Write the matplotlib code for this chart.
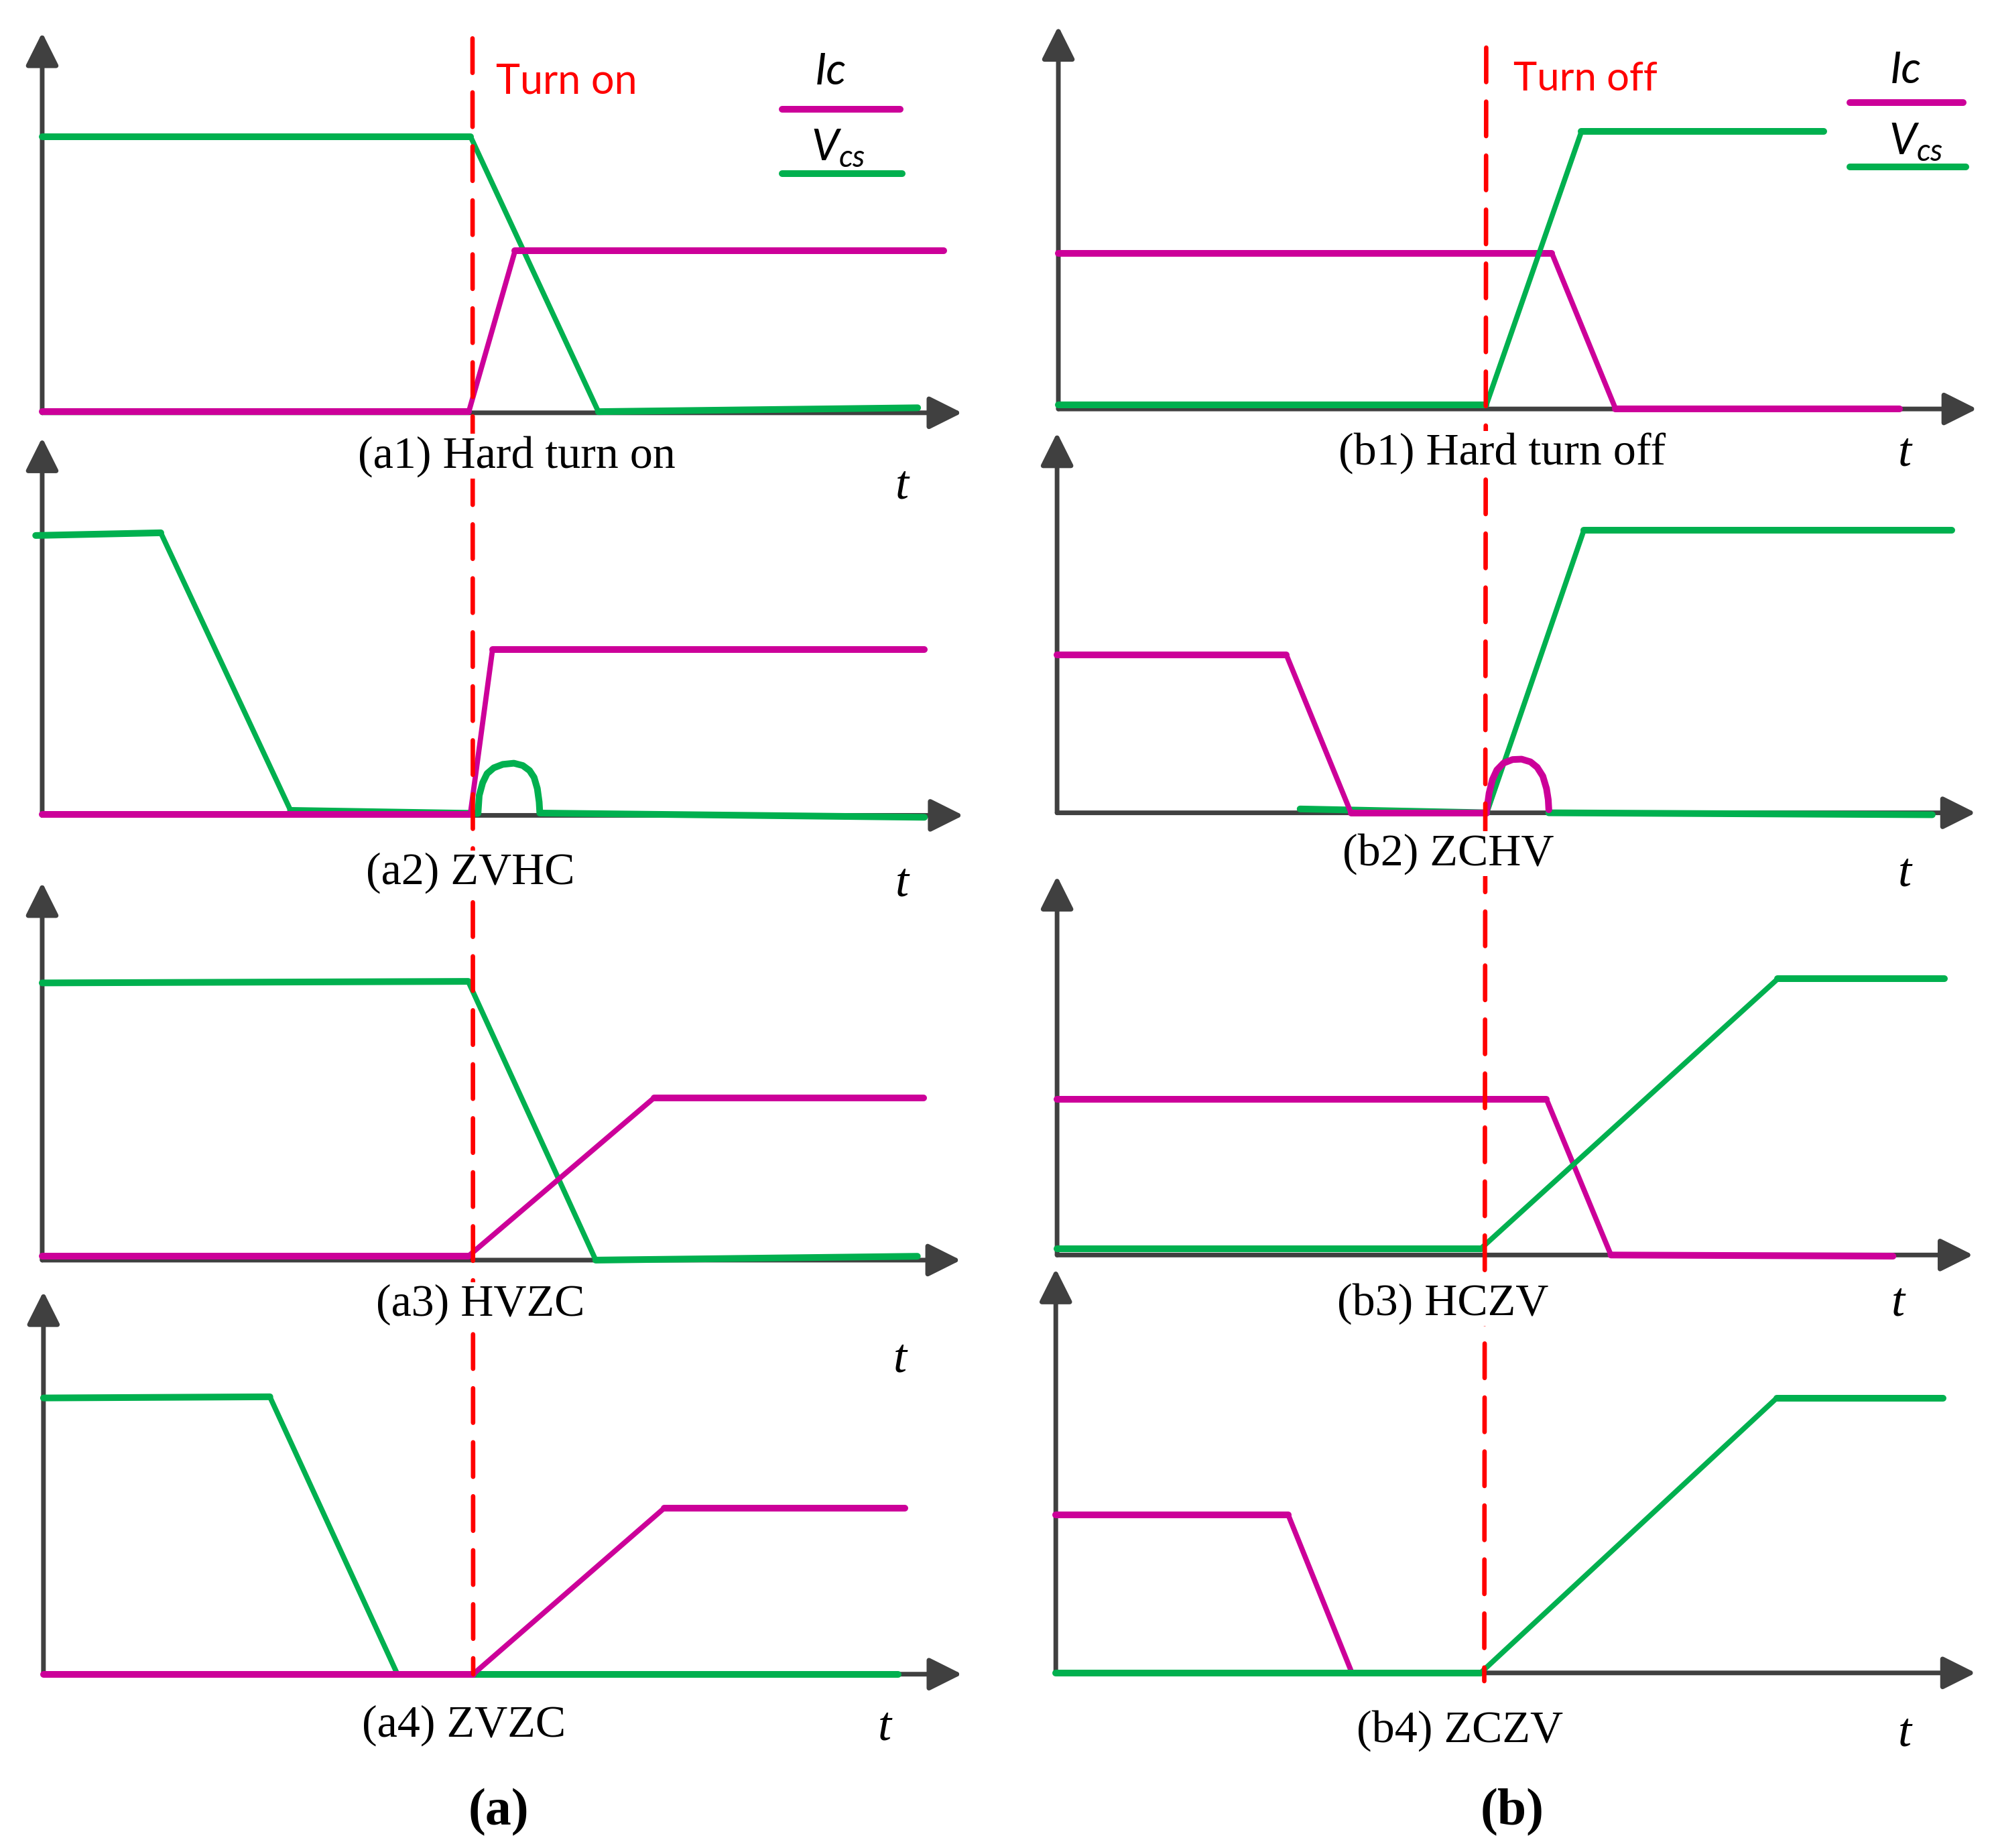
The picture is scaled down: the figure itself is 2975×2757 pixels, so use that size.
import matplotlib
matplotlib.use('Agg')
import matplotlib.pyplot as plt
from matplotlib.lines import Line2D

plt.rcParams['lines.scale_dashes'] = False
plt.rcParams['mathtext.fontset'] = 'custom'
plt.rcParams['mathtext.it'] = 'Lato:italic'
plt.rcParams['mathtext.rm'] = 'Lato'

GREEN = '#00B04F'
MAGENTA = '#CC0099'
RED = '#FF0000'
AXIS = '#404040'

# ---------------- data: waveform breakpoints (time 0..10, amplitude 0..1) ----------------
a1_vcs_t = [0, 4.63, 6.01, 9.46]
a1_vcs_v = [0.715, 0.715, 0.003, 0.013]
a1_ic_t = [0, 4.61, 5.11, 9.74]
a1_ic_v = [0.003, 0.003, 0.42, 0.42]

a2_vcs_t = [-0.07, 1.28, 2.68, 4.70]
a2_vcs_v = [0.73, 0.737, 0.013, 0.005]
a2_bump_t = [4.703, 4.716, 4.753, 4.801, 4.873, 4.970, 5.090, 5.186, 5.259,
             5.308, 5.343, 5.363, 5.370, 9.52]
a2_bump_v = [0.006, 0.052, 0.085, 0.109, 0.124, 0.133, 0.136, 0.130, 0.117,
             0.099, 0.070, 0.035, 0.006, -0.005]
a2_ic_t = [0, 4.62, 4.86, 9.52]
a2_ic_v = [0.003, 0.003, 0.433, 0.433]

a3_vcs_t = [0, 4.61, 5.99, 9.47]
a3_vcs_v = [0.723, 0.727, 0.0, 0.01]
a3_ic_t = [0, 4.61, 6.62, 9.54]
a3_ic_v = [0.01, 0.01, 0.423, 0.423]

a4_vcs_t = [0, 2.45, 3.83, 9.25]
a4_vcs_v = [0.711, 0.714, 0.0, 0.0]
a4_ic_t = [0, 4.65, 6.72, 9.32]
a4_ic_v = [0.0, 0.0, 0.428, 0.428]

b1_ic_t = [0, 5.34, 6.03, 9.10]
b1_ic_v = [0.401, 0.401, 0.0, 0.0]
b1_vcs_t = [0, 4.63, 5.66, 8.28]
b1_vcs_v = [0.01, 0.01, 0.714, 0.714]

b2_ic_t = [0, 2.48, 3.18, 4.65]
b2_ic_v = [0.41, 0.41, 0.0, 0.0]
b2_bump_t = [4.650, 4.675, 4.711, 4.759, 4.832, 4.929, 5.026, 5.123, 5.195,
             5.256, 5.296, 5.315, 5.321]
b2_bump_v = [0.008, 0.051, 0.086, 0.111, 0.129, 0.138, 0.139, 0.132, 0.118,
             0.095, 0.063, 0.034, 0.008]
b2_vcs_t = [2.63, 4.65, 5.70, 9.68]
b2_vcs_v = [0.01, 0.0, 0.732, 0.732]
b2_tail_t = [5.32, 9.47]
b2_tail_v = [0.0, -0.005]

b3_ic_t = [0, 5.31, 6.01, 9.07]
b3_ic_v = [0.405, 0.405, 0.0, -0.003]
b3_vcs_t = [0, 4.60, 7.82, 9.63]
b3_vcs_v = [0.017, 0.017, 0.718, 0.718]

b4_ic_t = [0, 2.51, 3.20]
b4_ic_v = [0.386, 0.386, 0.0]
b4_vcs_t = [0, 4.59, 7.79, 9.59]
b4_vcs_v = [0.0, 0.0, 0.67, 0.67]

t_switch_a = 4.65
t_switch_b = 4.63

titles = ['(a1) Hard turn on', '(a2) ZVHC', '(a3) HVZC', '(a4) ZVZC',
          '(b1) Hard turn off', '(b2) ZCHV', '(b3) HCZV', '(b4) ZCZV']
legend_labels = ['Ic', r'$V_{cs}$']
marker_labels = ['Turn on', 'Turn off']
group_labels = ['(a)', '(b)']

# ---------------- layout (reference pixel grid 1560 x 1446) ----------------
W_REF, H_REF = 1560.0, 1446.0
def fx(x):
    return x / W_REF
def fy(y):
    return 1 - y / H_REF

boxes = {  # xL, xR, yTop, yBottom
    'a1': (33, 757, 21, 323), 'a2': (33, 758, 338, 638),
    'a3': (33, 756, 686, 986), 'a4': (34, 757, 1006, 1310),
    'b1': (828, 1551, 16, 320), 'b2': (827, 1550, 334, 636),
    'b3': (827, 1548, 681, 982), 'b4': (826, 1550, 988, 1309),
}

LW_FLAT = 7.2
LW_SLOPE = 5.6
LW_AXIS = 5.0

fig = plt.figure(figsize=(29.75, 27.57), dpi=100)
axes = {}
for name, (xL, xR, yT, yB) in boxes.items():
    ax = fig.add_axes([fx(xL), fy(yB), fx(xR) - fx(xL), fy(yT) - fy(yB)])
    ax.set_xlim(0, 10)
    ax.set_ylim(0, 1)
    ax.axis('off')
    arrow = dict(arrowstyle='-|>,head_length=30,head_width=15', color=AXIS,
                 lw=LW_AXIS, shrinkA=0, shrinkB=0, mutation_scale=1,
                 joinstyle='round')
    ax.annotate('', xy=(9.94, 0), xytext=(0, 0), arrowprops=arrow,
                annotation_clip=False, zorder=1)
    ax.annotate('', xy=(0, 0.985), xytext=(0, 0), arrowprops=arrow,
                annotation_clip=False, zorder=1)
    axes[name] = ax


def wave(ax, t, v, color, z=3, thick=False):
    lw = LW_FLAT if thick else LW_SLOPE
    ax.plot(t, v, color=color, lw=lw, solid_capstyle='round',
            solid_joinstyle='round', clip_on=False, zorder=z)
    if not thick:
        for i in range(len(t) - 1):
            dt = t[i + 1] - t[i]
            if dt > 0 and abs(v[i + 1] - v[i]) / dt < 0.01:
                ax.plot(t[i:i + 2], v[i:i + 2], color=color, lw=LW_FLAT,
                        solid_capstyle='round', clip_on=False, zorder=z)


wave(axes['a1'], a1_vcs_t, a1_vcs_v, GREEN, 3)
wave(axes['a1'], a1_ic_t, a1_ic_v, MAGENTA, 4)
wave(axes['a2'], a2_vcs_t, a2_vcs_v, GREEN, 3)
wave(axes['a2'], a2_bump_t, a2_bump_v, GREEN, 3, thick=True)
wave(axes['a2'], a2_ic_t, a2_ic_v, MAGENTA, 4)
wave(axes['a3'], a3_vcs_t, a3_vcs_v, GREEN, 3)
wave(axes['a3'], a3_ic_t, a3_ic_v, MAGENTA, 4)
wave(axes['a4'], a4_vcs_t, a4_vcs_v, GREEN, 3)
wave(axes['a4'], a4_ic_t, a4_ic_v, MAGENTA, 4)
wave(axes['b1'], b1_ic_t, b1_ic_v, MAGENTA, 3)
wave(axes['b1'], b1_vcs_t, b1_vcs_v, GREEN, 4)
wave(axes['b2'], b2_vcs_t, b2_vcs_v, GREEN, 3)
wave(axes['b2'], b2_tail_t, b2_tail_v, GREEN, 3)
wave(axes['b2'], b2_ic_t, b2_ic_v, MAGENTA, 4)
wave(axes['b2'], b2_bump_t, b2_bump_v, MAGENTA, 4, thick=True)
wave(axes['b3'], b3_ic_t, b3_ic_v, MAGENTA, 3)
wave(axes['b3'], b3_vcs_t, b3_vcs_v, GREEN, 4)
wave(axes['b4'], b4_ic_t, b4_ic_v, MAGENTA, 3)
wave(axes['b4'], b4_vcs_t, b4_vcs_v, GREEN, 4)

# switching instants (red dashed lines through each column)
fig.canvas.draw()
inv = fig.transFigure.inverted()
for top, bot, ts, vtop, vbot in [('a1', 'a4', t_switch_a, 0.97, 0.0),
                                 ('b1', 'b4', t_switch_b, 0.93, -0.02)]:
    p0 = inv.transform(axes[top].transData.transform((ts, vtop)))
    p1 = inv.transform(axes[bot].transData.transform((ts, vbot)))
    ln = Line2D([p0[0], p1[0]], [p0[1], p1[1]], transform=fig.transFigure,
                color=RED, lw=4.8, dashes=(37, 21), dash_capstyle='round',
                zorder=2)
    fig.add_artist(ln)

# legend swatches
for (x0, x1, y, c) in [(612, 704, 85.5, MAGENTA), (612, 706, 135.9, GREEN),
                       (1447, 1536, 80, MAGENTA), (1447, 1538, 130.5, GREEN)]:
    fig.add_artist(Line2D([fx(x0), fx(x1)], [fy(y), fy(y)], transform=fig.transFigure,
                          color=c, lw=LW_FLAT, solid_capstyle='round'))

lab = dict(family='Lato', fontsize=47, fontstyle='italic', color='black',
           ha='center', va='center')
fig.text(fx(650), fy(56), legend_labels[0], **lab)
fig.text(fx(656), fy(116), legend_labels[1], **lab)
fig.text(fx(1491), fy(55), legend_labels[0], **lab)
fig.text(fx(1499), fy(111), legend_labels[1], **lab)

fig.text(fx(388), fy(64), marker_labels[0], family='Lato', fontsize=44,
         color=RED, ha='left', va='center')
fig.text(fx(1184), fy(62), marker_labels[1], family='Lato', fontsize=43,
         color=RED, ha='left', va='center')

title_pos = [(404, 357), (368, 683), (376, 1021), (363, 1350),
             (1175, 355), (1133, 668), (1129, 1020), (1142, 1354)]
for s, (x, y) in zip(titles, title_pos):
    fig.text(fx(x), fy(y), s, family='Liberation Serif', fontsize=49,
             ha='center', va='center', zorder=5,
             bbox=dict(facecolor='white', edgecolor='none', pad=2))

t_pos = [(706, 381), (706, 692), (704, 1064), (692, 1352),
         (1490, 355), (1490, 684), (1485, 1020), (1490, 1357)]
for (x, y) in t_pos:
    fig.text(fx(x), fy(y), 't', family='Liberation Serif', fontstyle='italic',
             fontsize=52, ha='center', va='center')

fig.text(fx(390), fy(1418), group_labels[0], family='Liberation Serif',
         fontweight='bold', fontsize=56, ha='center', va='center')
fig.text(fx(1183), fy(1418), group_labels[1], family='Liberation Serif',
         fontweight='bold', fontsize=56, ha='center', va='center')

fig.savefig('out.png', dpi=100, facecolor='white')
